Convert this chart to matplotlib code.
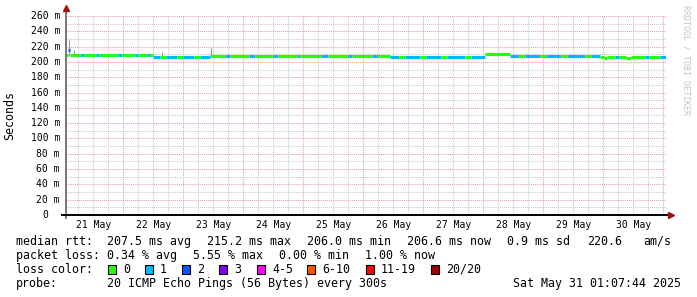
#!/usr/bin/env python3
"""SmokePing style latency chart, 10 days, median rtt coloured by packet loss."""

import matplotlib
matplotlib.use('Agg')
import matplotlib.pyplot as plt
import matplotlib.transforms as mtrans
import numpy as np

plt.rcParams.update({
    'font.family': 'DejaVu Sans Mono',
    'font.size': 8.4,
})

W, H = 697, 297

# ---- data -------------------------------------------------------------
# time in days since 21 May 00:00, graph ends Sat May 31 01:07:44
t_end = 10.047
t_start = t_end - 10.0

run_start = [0.047, 0.085, 0.115, 0.30, 0.34, 0.55, 0.59, 0.92, 0.98, 1.20,
             1.25, 1.40, 1.45, 1.50, 1.62, 1.72, 1.90, 2.00, 2.18, 2.28,
             2.45, 2.70, 2.78, 3.10, 3.20, 3.50, 3.58, 3.90, 3.95, 4.30,
             4.42, 4.75, 4.82, 5.15, 5.25, 5.45, 5.60, 5.70, 5.95, 6.05,
             6.30, 6.40, 6.70, 6.80, 7.03, 7.45, 7.60, 7.70, 7.95, 8.05,
             8.30, 8.40, 8.70, 8.80, 8.95, 9.02, 9.07, 9.20, 9.27, 9.38,
             9.46, 9.70, 9.76, 9.95]
run_median = [209.4, 215.2, 209.4, 209.4, 209.3, 209.0, 209.4, 209.3, 209.3, 209.2,
              209.3, 209.3, 209.2, 206.8, 206.9, 206.8, 206.8, 206.7, 206.8, 206.7,
              207.8, 207.8, 207.9, 207.7, 207.8, 207.8, 207.7, 207.8, 207.8, 207.7,
              207.8, 207.8, 207.7, 207.8, 207.8, 206.9, 207.0, 206.8, 207.0, 206.9,
              207.0, 206.9, 207.0, 206.9, 209.8, 207.4, 207.5, 207.4, 207.5, 207.4,
              207.5, 207.4, 207.5, 207.4, 206.9, 205.6, 206.9, 206.8, 206.9, 205.5,
              206.9, 206.8, 206.9, 206.8]
run_loss = [0, 2, 0, 1, 0, 1, 0, 1, 0, 1,
            0, 1, 0, 1, 0, 1, 0, 1, 0, 1,
            0, 1, 0, 1, 0, 1, 0, 1, 0, 1,
            0, 1, 0, 1, 0, 1, 0, 1, 0, 1,
            0, 1, 0, 1, 0, 1, 0, 1, 0, 1,
            0, 1, 0, 1, 0, 0, 0, 1, 0, 0,
            0, 1, 0, 1]

# smoke spikes (min / max of the 20 pings)
smoke_t = [0.10, 0.18, 1.65, 2.47]
smoke_lo = [208, 208, 208, 208]
smoke_hi = [228, 215, 213, 218]

day_labels = ['21 May', '22 May', '23 May', '24 May', '25 May',
              '26 May', '27 May', '28 May', '29 May', '30 May']
y_ticks = [0, 20, 40, 60, 80, 100, 120, 140, 160, 180, 200, 220, 240, 260]

loss_names = ['0', '1', '2', '3', '4-5', '6-10', '11-19', '20/20']
loss_colors = ['#26ff00', '#00b8ff', '#0059ff', '#7e00ff',
               '#ff00ff', '#ff5500', '#ff0000', '#a10000']


def loss_color(n):
    if n <= 3:
        return loss_colors[n]
    if n <= 5:
        return loss_colors[4]
    if n <= 10:
        return loss_colors[5]
    if n <= 19:
        return loss_colors[6]
    return loss_colors[7]


# ---- figure -----------------------------------------------------------
fig = plt.figure(figsize=(W / 100, H / 100), dpi=100)
fig.patch.set_facecolor('white')

ax_l, ax_r, ax_t, ax_b = 66, 666, 16, 215
ax = fig.add_axes([ax_l / W, 1 - ax_b / H, (ax_r - ax_l) / W, (ax_b - ax_t) / H])
ax.set_xlim(t_start, t_end)
ax.set_ylim(0, 260)
for s in ax.spines.values():
    s.set_visible(False)

# grid
ax.set_xticks(np.arange(1, 11))
ax.set_xticks(np.arange(0.25, 10.1, 0.25), minor=True)
ax.set_yticks(y_ticks)
ax.set_yticks(np.arange(10, 260, 20), minor=True)
ax.tick_params(which='both', length=0, labelbottom=False, labelleft=False)
ax.grid(which='minor', color='#c8c8c8', linestyle=(0, (1, 1)), linewidth=0.75)
ax.grid(which='major', color='#e8a0a0', linestyle=(0, (1, 1)), linewidth=0.75)
ax.set_axisbelow(True)

# smoke
ax.vlines(smoke_t, smoke_lo, smoke_hi, colors='#9a9a9a', linewidth=0.8, zorder=3)

# median line coloured by loss
run_end = run_start[1:] + [t_end]
ax.hlines(run_median, run_start, run_end,
          colors=[loss_color(n) for n in run_loss],
          linewidth=2.2, zorder=4, capstyle='butt')

# axes lines and arrows
ax.plot([0, 0], [-3 / 199, 1 + 7 / 199], transform=ax.transAxes,
        color='#777777', linewidth=1.4, clip_on=False, zorder=5)
ax.plot([-4 / 600, 1 + 3 / 600], [0, 0], transform=ax.transAxes,
        color='black', linewidth=1.4, clip_on=False, zorder=5)
ax.plot([0], [1 + 8 / 199], marker='^', markersize=4.5, color='#a01010',
        transform=ax.transAxes, clip_on=False, zorder=6)
ax.plot([1 + 5 / 600], [0], marker='>', markersize=4.5, color='#a01010',
        transform=ax.transAxes, clip_on=False, zorder=6)

# tick labels
xtr = mtrans.blended_transform_factory(ax.transData, ax.transAxes)
for i, lab in enumerate(day_labels):
    ax.text(i + 0.5, -10 / 199, lab, transform=xtr, ha='center', va='center',
            fontsize=7, color='black')
ytr = mtrans.blended_transform_factory(ax.transAxes, ax.transData)
for v in y_ticks:
    if v == 0:
        ax.text(-21 / 600, v, '0', transform=ytr, ha='center', va='center',
                fontsize=7, color='black')
    else:
        ax.text(-6 / 600, v, f'{v} m', transform=ytr, ha='right', va='center',
                fontsize=7, color='black')

fig.text(10 / W, 1 - 115.5 / H, 'Seconds', rotation=90, ha='center',
         va='center', fontsize=8.4)
fig.text(686 / W, 1 - 60 / H, 'RRDTOOL / TOBI OETIKER', rotation=270,
         ha='center', va='center', fontsize=6, color='#c4c4c4')


# ---- legend -----------------------------------------------------------
def ftext(x, y, s, **kw):
    fig.text(x / W, 1 - y / H, s, ha='left', va='center', fontsize=8.4, **kw)


ftext(16, 241.5, 'median rtt:')
for x, s in zip([107, 207, 307, 407, 507, 587, 643],
                ['207.5 ms avg', '215.2 ms max', '206.0 ms min',
                 '206.6 ms now', '0.9 ms sd', '220.6', 'am/s']):
    ftext(x, 241.5, s)

ftext(16, 255.5, 'packet loss:')
for x, s in zip([107, 193, 279, 365],
                ['0.34 % avg', '5.55 % max', '0.00 % min', '1.00 % now']):
    ftext(x, 255.5, s)

ftext(16, 269.5, 'loss color:')
sq_x = [108, 145, 182, 219, 257, 307, 366, 431]
for x, name, c in zip(sq_x, loss_names, loss_colors):
    fig.patches.append(plt.Rectangle((x / W, 1 - 274 / H), 8 / W, 9 / H,
                                     transform=fig.transFigure, facecolor=c,
                                     edgecolor='black', linewidth=0.8))
    ftext(x + 15, 269.5, name)

ftext(16, 283.5, 'probe:')
ftext(107, 283.5, '20 ICMP Echo Pings (56 Bytes) every 300s')
ftext(513, 283.5, 'Sat May 31 01:07:44 2025')

fig.savefig('out.png', dpi=100, facecolor='white')
